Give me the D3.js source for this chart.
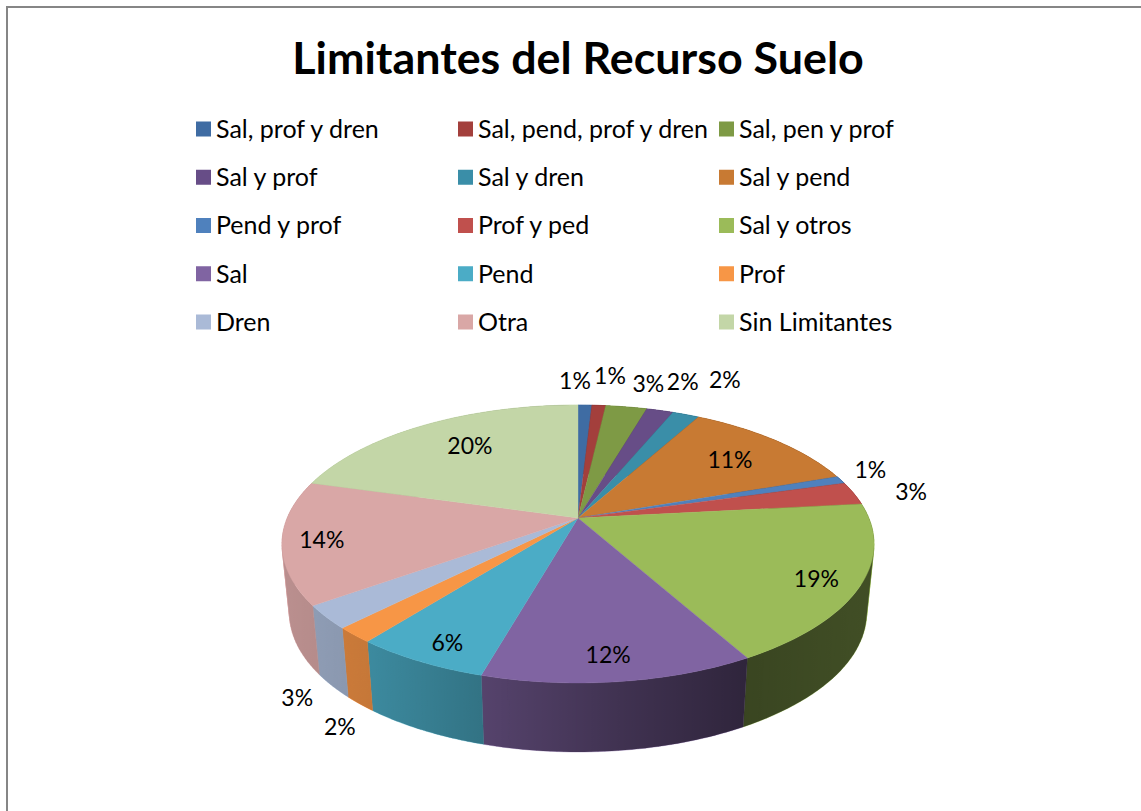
<!DOCTYPE html>
<html><head><meta charset="utf-8">
<script src="https://cdn.jsdelivr.net/npm/d3@7/dist/d3.min.js"></script>
<style>html,body{margin:0;padding:0;background:#fff;overflow:hidden}svg{display:block}text{font-family:Lato,"Open Sans",sans-serif;fill:#000}</style>
</head><body><div id="c"></div>
<script>
const chartTitle = "Limitantes del Recurso Suelo";
const categories = ["Sal, prof y dren","Sal, pend, prof y dren","Sal, pen y prof","Sal y prof","Sal y dren","Sal y pend","Pend y prof","Prof y ped","Sal y otros","Sal","Pend","Prof","Dren","Otra","Sin Limitantes"];
const values = [0.9,0.9,2.7,1.75,1.75,11.7,0.9,2.7,18.6,12.5,6.2,1.8,2.7,14.3,20.6];
const valueLabels = ["1%","1%","3%","2%","2%","11%","1%","3%","19%","12%","6%","2%","3%","14%","20%"];
const colors = ["#3f6ca3","#a33f3c","#7e9a45","#674d87","#3a8ea8","#c87a33","#4f81bd","#c0504d","#9bbb59","#8064a2","#4bacc6","#f79646","#aabad7","#d9a7a6","#c3d6a7"];
const labelRadius = [1.1,1.1,1.1,1.1,1.1,.7,1.1,1.1,.7,.7,.7,1.1,1.1,.7,.7];
const labelNudge = [[-10.5,-15],[9.5,-20],[18,-14],[16,-19],[30,-26],[8.5,-2],[5,-6],[31,1],[46,15],[3,30],[-26,30],[12,78],[0,69],[-51,5.5],[3,-4]];

const W = 1141, H = 811;
const svg = d3.select("#c").append("svg").attr("width",W).attr("height",H);
svg.append("path").attr("d",`M7,${H}V7H${W}`).attr("fill","none").attr("stroke","#868686").attr("stroke-width",2);

svg.append("text").attr("x",578).attr("y",74).attr("text-anchor","middle").attr("font-size",44.8).attr("font-weight",700).text(chartTitle);

// legend
const legendCol = d3.scaleOrdinal().domain([0,1,2]).range([196,458,719]);
const legendRow = d3.scaleLinear().domain([0,4]).range([129,322]);
const lg = svg.append("g").selectAll("g").data(categories).join("g")
  .attr("transform",(d,i)=>`translate(${legendCol(i%3)},${legendRow(Math.floor(i/3))})`);
lg.append("rect").attr("x",0).attr("y",-7.5).attr("width",15).attr("height",15).attr("fill",(d,i)=>colors[i]);
lg.append("text").attr("x",20).attr("dy","0.35em").attr("font-size",25).text(d=>d);

// perspective pie projection
const apex = [578,518], K = 290.8, A = 134.1, C = -0.187, depth = 69, shrink = 0.975;
function project(theta, r){
  const X = r*Math.sin(theta), Y = -r*Math.cos(theta), den = 1 + C*Y;
  return [apex[0] + K*X/den, apex[1] + A*Y/den];
}
const bottom = p => [apex[0] + (p[0]-apex[0])*shrink, p[1] + depth];
const arcs = d3.pie().sort(null).value(d=>d)(values);
const line = d3.line();
const samples = a => d3.range(0,41).map(i=>a.startAngle + (a.endAngle-a.startAngle)*i/40);

const defs = svg.append("defs");
const grad = defs.append("linearGradient").attr("id","shade").attr("gradientUnits","userSpaceOnUse")
  .attr("x1",282).attr("x2",874).attr("y1",0).attr("y2",0);
[[282,.14],[370,.2],[480,.33],[620,.5],[745,.63],[874,.58]].forEach(s=>{
  grad.append("stop").attr("offset",(s[0]-282)/592).attr("stop-color","#000").attr("stop-opacity",s[1]);
});
// the wall is a ruled surface: one consistently wound quad per arc step, so the silhouette stays filled
const wallPath = a => {
  const top = samples(a).map(t=>project(t,1));
  return d3.pairs(top).map(([p,q])=>{
    const quad = [p,q,bottom(q),bottom(p)];
    return line(d3.polygonArea(quad)<0 ? quad.reverse() : quad)+"Z";
  }).join("");
};
const walls = svg.append("g");
walls.selectAll("path.w").data(arcs).join("path").attr("class","w").attr("d",wallPath).attr("fill",(d,i)=>colors[i]).attr("stroke",(d,i)=>colors[i]).attr("stroke-width",.4);
walls.selectAll("path.s").data(arcs).join("path").attr("class","s").attr("d",wallPath).attr("fill","url(#shade)");

svg.append("g").selectAll("path").data(arcs).join("path")
  .attr("d",a=>line([apex].concat(samples(a).map(t=>project(t,1))))+"Z")
  .attr("fill",(d,i)=>colors[i]).attr("stroke",(d,i)=>colors[i]).attr("stroke-width",.4);

svg.append("g").selectAll("text").data(arcs).join("text")
  .attr("text-anchor","middle").attr("dy","0.35em").attr("font-size",23)
  .attr("x",(a,i)=>project((a.startAngle+a.endAngle)/2,labelRadius[i])[0]+labelNudge[i][0])
  .attr("y",(a,i)=>project((a.startAngle+a.endAngle)/2,labelRadius[i])[1]+labelNudge[i][1])
  .text((a,i)=>valueLabels[i]);
</script></body></html>
